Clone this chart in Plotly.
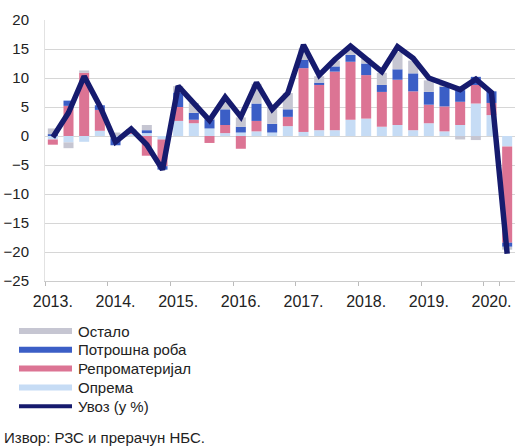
import plotly.graph_objects as go

# ---- data ----
years = [2013, 2014, 2015, 2016, 2017, 2018, 2019, 2020]
quarters = [f"{y}Q{q}" for y in years for q in (1, 2, 3, 4)][:30]
year_ticks = [f"{y}Q1" for y in years]
year_labels = [f"{y}." for y in years]

oprema = [-0.6, -1.1, -1.0, 0.9,
          -0.4, 0.4, 0.5, -0.6,
          2.6, 2.2, 1.3, 0.5,
          0.6, 0.8, 0.6, 1.7,
          0.7, 1.0, 1.0, 2.8,
          3.0, 1.6, 1.9, 1.0,
          2.2, 0.8, 1.9, 5.6,
          3.6, -1.8]
repro = [-0.9, 5.2, 10.9, 3.6,
         0.0, 0.3, -3.4, -4.6,
         2.4, 0.6, -1.2, 1.4,
         -2.2, 1.8, 0.0, 1.6,
         11.0, 7.8, 10.1, 10.0,
         7.5, 6.0, 7.8, 6.7,
         3.2, 4.3, 4.0, 3.2,
         2.1, -16.6]
potrosna = [0.3, 0.9, 0.0, 0.8,
            -1.2, 0.3, 0.5, -0.6,
            2.5, 1.2, 1.6, 2.7,
            1.0, 3.0, 1.5, 1.3,
            1.4, 0.4, 0.9, 1.2,
            2.0, 1.2, 1.8, 3.1,
            2.2, 3.4, 2.0, 1.4,
            2.0, -0.7]
ostalo = [1.0, -1.0, 0.4, 0.0,
          0.6, 0.2, 0.9, 0.0,
          1.1, 1.7, 0.2, 1.5,
          1.6, 3.4, 2.9, 2.8,
          2.0, 1.1, 1.0, 1.2,
          0.9, 2.1, 3.0, 2.2,
          2.0, 0.3, -0.6, -0.7,
          0.0, -0.5]
uvoz = [-0.2, 4.0, 10.3, 5.2,
        -1.0, 1.2, -1.5, -5.8,
        8.6, 5.8, 2.7, 6.7,
        3.3, 9.2, 4.6, 7.4,
        15.7, 10.5, 13.2, 15.5,
        13.4, 11.1, 15.4, 13.4,
        10.0, 8.9, 8.0, 9.8,
        7.5, -20.3]

C_GRAY = "#c6c6d2"
C_BLUE = "#3b5ec6"
C_PINK = "#dc7494"
C_LBLUE = "#c6dcf5"
C_NAVY = "#161b6e"

W, H = 515, 446
ML, MR, MT, MB = 45, 0, 20, 165
PW, PH = W - ML - MR, H - MT - MB

def px(x):
    return (x - ML) / PW

def py(y):
    return (H - MB - y) / PH

fig = go.Figure()
series = [("Опрема", oprema, C_LBLUE), ("Репроматеријал", repro, C_PINK),
          ("Потрошна роба", potrosna, C_BLUE), ("Остало", ostalo, C_GRAY)]
for name, vals, col in series:
    fig.add_bar(x=quarters, y=vals, name=name, marker_color=col,
                marker_line_width=0, showlegend=False)
fig.add_scatter(x=quarters, y=uvoz, name="Увоз (у %)", mode="lines",
                line=dict(color=C_NAVY, width=5.5), showlegend=False)

font = "Liberation Sans, Arial, sans-serif"
fig.update_layout(
    width=W, height=H, margin=dict(l=ML, r=MR, t=MT, b=MB, autoexpand=False),
    barmode="relative", bargap=0.36,
    plot_bgcolor="white", paper_bgcolor="white",
    font=dict(family=font, color="#222", size=15),
    xaxis=dict(type="category", categoryorder="array", categoryarray=quarters,
               tickvals=year_ticks, ticktext=year_labels, tickson="boundaries",
               ticks="outside", ticklen=4, tickcolor="#bbbbbb", tickangle=0,
               showline=True, linecolor="#cccccc", showgrid=False, automargin=False,
               tickfont=dict(size=16), ticklabelstandoff=6),
    yaxis=dict(range=[-25, 20], dtick=5, showgrid=True, gridcolor="#d6d6d6",
               zeroline=False, showline=True, linecolor="#e2e2e2", automargin=False,
               tickfont=dict(size=15), ticklabelstandoff=12),
)

# manual legend
legend_items = [("Остало", C_GRAY, 6), ("Потрошна роба", C_BLUE, 6),
                ("Репроматеријал", C_PINK, 6), ("Опрема", C_LBLUE, 6),
                ("Увоз (у %)", C_NAVY, 4)]
y0 = 331
for i, (txt, col, lw) in enumerate(legend_items):
    yy = y0 + i * 18.8
    fig.add_shape(type="line", xref="paper", yref="paper",
                  x0=px(19), x1=px(72), y0=py(yy), y1=py(yy),
                  line=dict(color=col, width=lw))
    fig.add_annotation(text=txt, xref="paper", yref="paper", x=px(76), y=py(yy),
                       xanchor="left", yanchor="middle", showarrow=False,
                       font=dict(size=15, color="#222"))
fig.add_annotation(text="Извор: РЗС и прерачун НБС.", xref="paper", yref="paper",
                   x=px(2), y=py(437), xanchor="left", yanchor="middle",
                   showarrow=False, font=dict(size=15, color="#222"))

fig.write_html("out.html", config={"displayModeBar": False},
               post_script="document.body.style.margin='0';document.body.style.overflow='hidden';")
